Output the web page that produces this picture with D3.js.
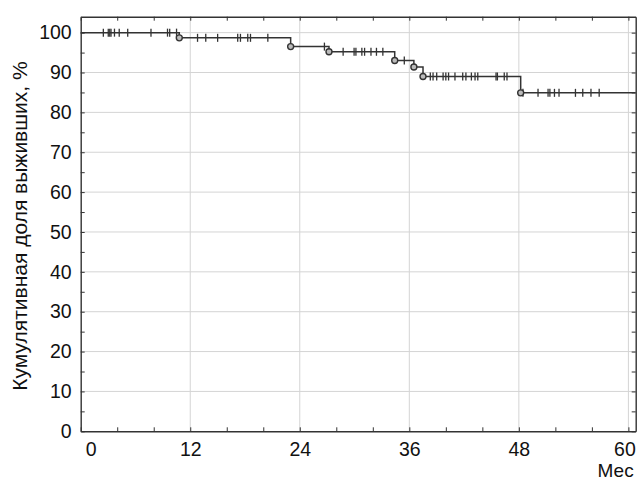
<!DOCTYPE html>
<html lang="ru">
<head>
<meta charset="utf-8">
<title>Кумулятивная доля выживших</title>
<style>
 body { margin: 0; background: #fff; font-family: "Liberation Sans", Arial, sans-serif; }
 .grid line { stroke: #d4d4d4; stroke-width: 1; }
 .tick text { font-size: 19.5px; fill: #111; }
</style>
<script src="https://d3js.org/d3.v7.min.js"></script>
</head>
<body>
<svg id="chart"></svg>
<script>
 // Data
 const xTicks = [0, 12, 24, 36, 48, 60];
 const yTicks = [0, 10, 20, 30, 40, 50, 60, 70, 80, 90, 100];
 const eventTimes = [10.8, 23.0, 27.2, 34.4, 36.5, 37.5, 48.2];
 const eventSurvival = [98.7, 96.5, 95.2, 93.0, 91.4, 89.0, 84.9];
 const censorTimes = [
     2.48, 3.02, 3.18, 3.32, 3.70, 4.22, 5.15, 7.70, 9.51, 9.75, 10.5,
     12.8, 13.7, 15.0, 17.2, 17.5, 18.3, 18.6, 20.5,
     26.7,
     28.75, 29.95, 30.15, 30.8, 31.1, 31.8, 32.4, 33.1,
     35.45,
     38.3, 38.6, 39.0, 39.7, 40.0, 40.3, 41.0, 41.85, 42.2, 42.8, 43.2, 43.5, 45.5, 45.65, 46.4, 46.7,
     48.45, 50.1, 51.2, 51.4, 51.9, 52.4, 54.2, 55.0, 55.9, 56.8
 ];
 const xMax = 60.8, yMax = 104;

 const W = 638, H = 480;
 const plotL = 80.7, plotR = 635.7, plotT = 16.7, plotB = 431.3;

 const svg = d3.select('#chart').attr('width', W).attr('height', H);

 const x = d3.scaleLinear().domain([0, xMax]).range([plotL, plotR]);
 const y = d3.scaleLinear().domain([0, yMax]).range([plotB, plotT]);

 // survival value at time t (step function)
 function surv(t) {
     let s = 100;
     eventTimes.forEach((e, i) => { if (t >= e) s = eventSurvival[i]; });
     return s;
 }

 // Grid
 const grid = svg.append('g').attr('class', 'grid');
 grid.selectAll('.gx').data(xTicks.filter(d => d > 0)).enter().append('line')
     .attr('x1', d => x(d)).attr('x2', d => x(d))
     .attr('y1', plotT).attr('y2', plotB);
 grid.selectAll('.gy').data(yTicks.filter(d => d > 0)).enter().append('line')
     .attr('x1', plotL).attr('x2', plotR)
     .attr('y1', d => y(d)).attr('y2', d => y(d));

 // Axes (ticks inward, minor ticks)
 const xMinor = d3.range(0, 61, 4);
 const yMinor = d3.range(0, 101, 5);

 const xAxis = svg.append('g')
     .attr('transform', 'translate(0,' + plotB + ')')
     .call(d3.axisBottom(x).tickValues(xMinor).tickSizeInner(-4).tickSizeOuter(0)
           .tickFormat(d => xTicks.includes(d) ? d : ''));
 xAxis.selectAll('.tick text').attr('y', 11);
 xAxis.selectAll('.tick').filter(d => d === 0).select('text').attr('dx', 10);
 xAxis.selectAll('.tick').filter(d => d === 60).select('text').attr('dx', -4);

 const yAxis = svg.append('g')
     .attr('transform', 'translate(' + plotL + ',0)')
     .call(d3.axisLeft(y).tickValues(yMinor).tickSizeInner(-4).tickSizeOuter(0)
           .tickFormat(d => yTicks.includes(d) ? d : ''));
 yAxis.selectAll('.tick text').attr('x', -9);

 svg.append('g')
     .attr('transform', 'translate(0,' + plotT + ')')
     .call(d3.axisTop(x).tickValues(xMinor).tickSizeInner(-4).tickSizeOuter(0).tickFormat(''));
 svg.append('g')
     .attr('transform', 'translate(' + plotR + ',0)')
     .call(d3.axisRight(y).tickValues(yMinor).tickSizeInner(-4).tickSizeOuter(0).tickFormat(''));

 svg.selectAll('.domain').attr('stroke', '#333').attr('stroke-width', 1.4);
 svg.selectAll('.tick line').attr('stroke', '#333');

 // Axis titles
 svg.append('text')
     .attr('x', plotR - 2).attr('y', 477)
     .attr('text-anchor', 'end')
     .style('font-size', '19px').style('fill', '#111')
     .text('Мес');

 svg.append('text')
     .attr('transform', 'translate(27,' + y(51.5) + ')rotate(-90)')
     .attr('text-anchor', 'middle')
     .style('font-size', '21px').style('fill', '#111')
     .text('Кумулятивная доля выживших, %');

 // Survival curve
 const pts = [[0, 100]].concat(eventTimes.map((t, i) => [t, eventSurvival[i]]), [[xMax, eventSurvival[eventSurvival.length - 1]]]);
 const line = d3.line().x(d => x(d[0])).y(d => y(d[1])).curve(d3.curveStepAfter);

 svg.append('path')
     .datum(pts)
     .attr('fill', 'none')
     .attr('stroke', '#333')
     .attr('stroke-width', 1.5)
     .attr('d', line);

 // Censored marks
 svg.selectAll('.cens').data(censorTimes).enter().append('line')
     .attr('x1', d => x(d)).attr('x2', d => x(d))
     .attr('y1', d => y(surv(d)) - 4).attr('y2', d => y(surv(d)) + 4)
     .attr('stroke', '#333').attr('stroke-width', 1.3);

 // Events
 svg.selectAll('.ev').data(eventTimes).enter().append('circle')
     .attr('cx', d => x(d))
     .attr('cy', (d, i) => y(eventSurvival[i]))
     .attr('r', 3)
     .attr('fill', '#bbb')
     .attr('stroke', '#333')
     .attr('stroke-width', 1.4);
</script>
</body>
</html>
